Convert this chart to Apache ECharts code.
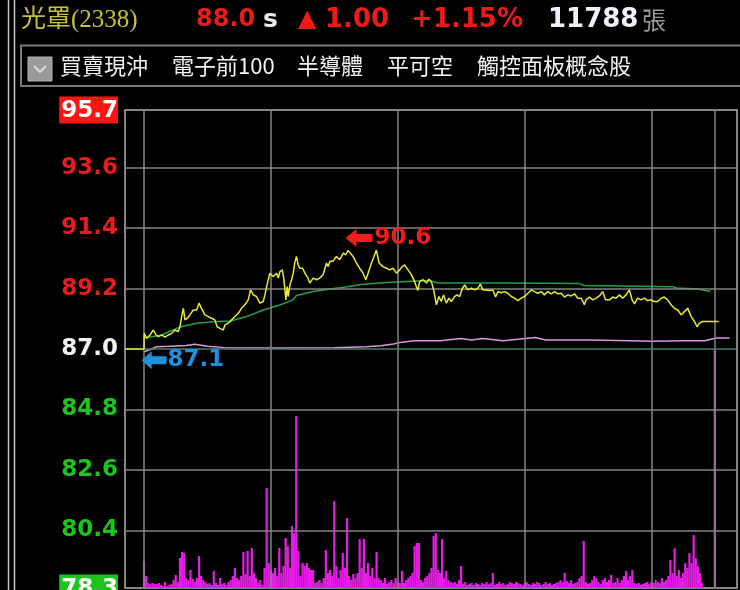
<!DOCTYPE html>
<html><head><meta charset="utf-8">
<script src="https://cdn.jsdelivr.net/npm/echarts@6/dist/echarts.min.js"></script>
<style>html,body{margin:0;padding:0;background:#000}#c{width:740px;height:590px}</style>
</head><body><div id="c"></div>
<script>
// ---------- data (minutes after 09:00) ----------
const priceTimes = [-9,0,0.1,1.3,2.8,4.4,5.7,6.8,8.3,9.9,11.5,13.1,14.6,16.2,17.0,17.8,18.6,19.4,20.5,21.7,23.3,24.9,26.0,27.2,28.8,30.4,32.0,33.5,34.6,35.9,37.5,38.3,39.8,41.4,43.0,44.6,46.1,47.7,49.3,50.4,51.7,53.2,54.8,56.4,57.2,58.0,59.5,61.1,62.7,63.5,64.3,65.4,66.1,67.1,67.7,68.2,69.0,69.8,70.6,71.3,72.1,72.9,73.7,75.0,76.1,77.6,78.4,80.0,81.6,83.1,84.7,86.3,87.1,87.9,89.4,91.0,92.6,94.2,95.4,96.5,97.6,98.9,100.5,102.0,103.6,104.9,106.0,107.6,108.8,109.9,111.2,113.0,114.7,116.2,117.8,119.4,120.9,122.2,123.3,124.9,126.5,128.0,128.8,129.6,130.4,132.0,133.6,134.8,135.9,137.0,138.3,139.5,140.6,141.7,143.0,144.2,145.4,146.9,148.0,149.3,150.6,151.7,153.2,154.8,156.4,157.9,159.1,160.3,161.9,163.5,165.0,166.3,167.4,169.0,170.5,172.1,173.7,175.3,176.8,178.4,180.0,181.6,183.2,184.7,186.3,187.9,189.4,191.0,192.6,194.2,195.7,197.3,198.9,200.5,202.1,203.6,205.2,206.8,208.3,209.1,210.7,212.3,213.9,215.4,217.0,218.3,220.2,221.7,223.3,224.9,226.4,228.0,229.6,230.9,232.0,233.5,235.1,236.7,238.2,239.8,241.4,243.0,244.6,246.1,247.7,249.3,250.9,252.5,254.1,255.6,257.2,258.8,260.4,261.6,262.7,264.3,271.8];
const priceValues = [87.0,87.0,87.57,87.39,87.51,87.69,87.51,87.45,87.51,87.43,87.51,87.57,87.69,87.63,87.81,88.18,88.48,88.06,88.12,88.24,88.42,88.42,88.67,88.48,88.24,88.18,88.12,88.06,87.81,87.75,87.69,87.88,87.94,88.06,88.18,88.30,88.48,88.61,88.79,89.15,88.97,88.91,88.67,88.73,88.97,89.27,89.76,89.64,89.76,89.58,89.82,89.88,89.58,88.79,89.27,88.91,89.33,89.52,89.76,90.13,90.37,90.06,89.94,89.94,89.76,89.58,89.40,89.58,89.52,89.58,89.70,90.13,90.00,90.19,90.19,90.37,90.25,90.49,90.43,90.59,90.49,90.37,90.13,89.94,89.76,89.52,89.76,90.13,90.37,90.6,90.13,90.00,89.94,89.88,89.94,89.76,89.88,90.00,90.06,89.88,89.70,89.46,89.27,89.13,89.46,89.52,89.40,89.54,89.46,89.15,88.61,88.91,88.73,88.97,88.67,88.85,88.73,88.91,88.97,88.91,89.21,89.33,89.15,89.21,89.15,89.21,89.36,89.15,89.15,89.13,89.15,88.89,89.09,89.05,89.09,89.03,88.91,88.85,88.76,88.85,88.91,89.03,89.15,89.09,89.03,89.09,88.97,89.09,89.01,89.09,89.01,89.03,88.89,88.97,88.93,89.01,88.85,88.85,88.61,88.79,88.89,88.79,88.85,88.93,89.09,88.79,88.79,88.89,88.85,88.97,88.85,88.97,89.15,88.79,88.64,88.85,88.79,88.85,88.76,88.79,88.73,88.73,88.85,88.89,88.79,88.61,88.48,88.42,88.24,88.36,88.48,88.18,88.00,87.81,87.94,88.00,88.00];

const avgTimes  = [0,8,17,25,34,41,48.5,56.4,64.3,70.5,72.1,80,88,96,103.6,111.5,119.4,135,139,170,206,208,250,252,262,268];
const avgValues = [87.4,87.5,87.8,87.94,88.0,88.02,88.18,88.42,88.6,88.79,88.95,89.09,89.18,89.27,89.36,89.40,89.44,89.49,89.40,89.40,89.38,89.31,89.27,89.22,89.18,89.09];

const refTimes  = [0,3,6,12,20,24,30,38,60,90,105,112,118,122,128,140,150,155,160,170,185,190,210,230,240,255,265,271,277];
const refValues = [86.9,86.98,87.08,87.1,87.13,87.17,87.1,87.05,87.04,87.05,87.08,87.12,87.18,87.25,87.3,87.3,87.38,87.33,87.38,87.3,87.42,87.33,87.33,87.3,87.28,87.3,87.3,87.4,87.4];

// per-minute volume (index = minute after 09:00)
const volume = [27,12,5,4,5,4,4,5,3,2, 6,2,3,4,8,13,6,30,36,35, 10,8,18,9,6,10,32,12,8,6, 4,5,3,17,5,3,10,4,5,3,
 6,8,12,20,10,8,12,36,14,37, 12,40,15,10,5,8,3,20,100,25, 18,15,20,12,40,15,22,50,42,20, 62,55,172,37,12,25,22,25,20,18,
 18,5,6,8,5,10,38,15,18,12, 87,22,10,18,35,20,70,12,8,14, 10,15,49,20,49,15,25,12,20,10, 36,10,8,5,10,4,6,8,5,10,
 6,5,17,5,8,10,12,15,42,45, 45,8,6,10,12,15,20,52,55,18, 15,49,10,17,8,6,5,6,4,8, 22,4,6,3,4,5,3,5,4,3,
 5,4,6,4,5,15,3,4,6,4, 5,3,4,6,5,4,6,5,4,3, 5,6,4,3,5,4,6,5,3,4, 6,4,5,3,4,5,6,8,6,15,
 7,5,8,4,5,6,10,12,47,6, 4,5,8,12,10,6,4,8,10,6, 8,13,5,6,10,5,8,12,17,8, 12,18,5,4,5,3,4,5,6,4,
 6,5,8,6,5,10,6,8,12,28, 15,40,12,18,10,15,25,20,35,25, 53,30,22,15,5,0,0,0,0,0, 238];

const yTickValues = [78.3,80.4,82.6,84.8,87.0,89.2,91.4,93.6,95.7];
const yTickLabels = ['78.3','80.4','82.6','84.8','87.0','89.2','91.4','93.6','95.7'];
const timeGrid = [0,60,120,180,240,270];
const prevClose = 87.0;
const highPoint = [96.5, 90.6];
const lowPoint = [0, 87.1];

const headerTexts = [
  {text:'光罩(2338)', x:21, color:'#c4c43a', font:'25px "Liberation Serif","Noto Sans CJK TC"'},
  {text:'88.0', x:196, color:'#ee1a1a', font:'bold 24px "DejaVu Sans"'},
  {text:'s', x:263, color:'#e6ecf4', font:'bold 25px "DejaVu Sans"'},
  {text:'▲', x:298, color:'#ee1a1a', font:'bold 24px "DejaVu Sans"'},
  {text:'1.00', x:325, color:'#ee1a1a', font:'bold 26px "DejaVu Sans"'},
  {text:'+1.15%', x:411, color:'#ee1a1a', font:'bold 26px "DejaVu Sans"'},
  {text:'11788', x:548, color:'#eef2f8', font:'bold 26px "DejaVu Sans"'},
  {text:'張', x:642, color:'#9a9a9a', font:'24px "Noto Sans CJK TC"'}
];
const toolbarTabs = [
  {text:'買賣現沖', x:60},
  {text:'電子前100', x:172},
  {text:'半導體', x:297},
  {text:'平可空', x:387},
  {text:'觸控面板概念股', x:477}
];

// ---------- chart ----------
const zip = (a,b)=>a.map((t,i)=>[t,b[i]]);
const arrowPath = 'path://M0,9L11,0L11,5L27,5L27,13L11,13L11,18Z';
const F = '"DejaVu Sans"';
const labStyle = (c,bg)=>Object.assign({color:c,fontSize:23,fontWeight:'bold',fontFamily:F}, bg?{backgroundColor:bg,padding:[3,0,1,2]}:{});

const graphic = [
  {type:'line', shape:{x1:8.5,y1:0,x2:8.5,y2:590}, style:{stroke:'#c8c8c8',lineWidth:1.5}},
  {type:'line', shape:{x1:14.5,y1:0,x2:14.5,y2:590}, style:{stroke:'#c8c8c8',lineWidth:1.5}},
  {type:'rect', shape:{x:21,y:45.5,width:740,height:40.5}, style:{fill:'#000',stroke:'#7a7a7a',lineWidth:2}},
  {type:'rect', shape:{x:28,y:57,width:24,height:24}, style:{fill:'#9a9a9a',stroke:'#b4b4b4',lineWidth:1}},
  {type:'polyline', shape:{points:[[34,66],[40,72],[46,66]]}, style:{stroke:'#dcdcdc',fill:null,lineWidth:2}}
];
headerTexts.forEach(h=>graphic.push({type:'text', x:h.x, y:20, style:{text:h.text, fill:h.color, font:h.font, verticalAlign:'middle'}}));
toolbarTabs.forEach(t=>graphic.push({type:'text', x:t.x, y:66, style:{text:t.text, fill:'#f2f2f2', font:'22px "Noto Sans CJK TC"', verticalAlign:'middle'}}));

const gridLines = timeGrid.map(t=>({xAxis:t}))
  .concat(yTickValues.filter(v=>v!==prevClose && v!==78.3 && v!==95.7).map(v=>({yAxis:v})))
  .concat([{yAxis:prevClose, lineStyle:{color:'#4e7a72',width:1.5}}]);

const option = {
  backgroundColor:'#000',
  animation:false,
  graphic: graphic,
  grid:{left:125, top:110, right:3, bottom:2, show:true, borderColor:'#b0b0b0', borderWidth:1.5, containLabel:false, outerBoundsMode:'none'},
  xAxis:{type:'value', min:-9, max:280.5, show:false},
  yAxis:[
    {type:'value', min:78.3, max:95.7, axisLine:{show:false}, axisTick:{show:false}, splitLine:{show:false},
     axisLabel:{show:true, margin:7, customValues:yTickValues, showMinLabel:true, showMaxLabel:true,
       formatter:function(v){
         let i = yTickValues.findIndex(x=>Math.abs(x-v)<0.001);
         const s = i>=0 ? yTickLabels[i] : v.toFixed(1);
         if (Math.abs(v-95.7)<0.001) return '{top|'+s+'}';
         if (Math.abs(v-78.3)<0.001) return '{bot|'+s+'}';
         if (Math.abs(v-prevClose)<0.001) return '{flat|'+s+'}';
         return v>prevClose ? '{up|'+s+'}' : '{down|'+s+'}';
       },
       rich:{top:labStyle('#ffffff','#ff1414'), bot:labStyle('#ffffff','#1ec41e'), up:labStyle('#e81c1c'), down:labStyle('#1cc41c'), flat:labStyle('#f2f2f2')}
     }},
    {type:'value', min:0, max:478, show:false}
  ],
  series:[
    {type:'line', data:[[-9,prevClose]], symbol:'none', lineStyle:{opacity:0}, z:1, silent:true,
     markLine:{silent:true, symbol:['none','none'], label:{show:false}, lineStyle:{color:'#858585', width:1.5, type:'solid'}, data:gridLines}},
    {type:'bar', yAxisIndex:1, data:volume.map((v,i)=>[i,v]), barWidth:2.2, itemStyle:{color:'#e81ce8'}, z:2, silent:true},
    {type:'line', data:zip(refTimes,refValues), symbol:'none', lineStyle:{color:'#d898dc', width:1.5}, z:3, silent:true},
    {type:'line', data:zip(avgTimes,avgValues), symbol:'none', lineStyle:{color:'#22a04a', width:1.5}, z:4, silent:true},
    {type:'line', data:zip(priceTimes,priceValues), symbol:'none', lineStyle:{color:'#e8e838', width:1.5}, z:5, silent:true,
     markPoint:{silent:true, data:[
       {coord:highPoint, symbol:arrowPath, symbolSize:[27,18], symbolOffset:[11,-12], itemStyle:{color:'#f01c1c'},
        label:{show:true, position:'right', distance:2, formatter:'90.6', color:'#f01c1c', fontSize:23, fontWeight:'bold', fontFamily:F}},
       {coord:lowPoint, symbol:arrowPath, symbolSize:[25,18], symbolOffset:[10,14], itemStyle:{color:'#1e90e0'},
        label:{show:true, position:'right', distance:1, formatter:'87.1', color:'#1e90e0', fontSize:23, fontWeight:'bold', fontFamily:F}}
     ]}}
  ]
};
echarts.init(document.getElementById('c')).setOption(option);
</script></body></html>
